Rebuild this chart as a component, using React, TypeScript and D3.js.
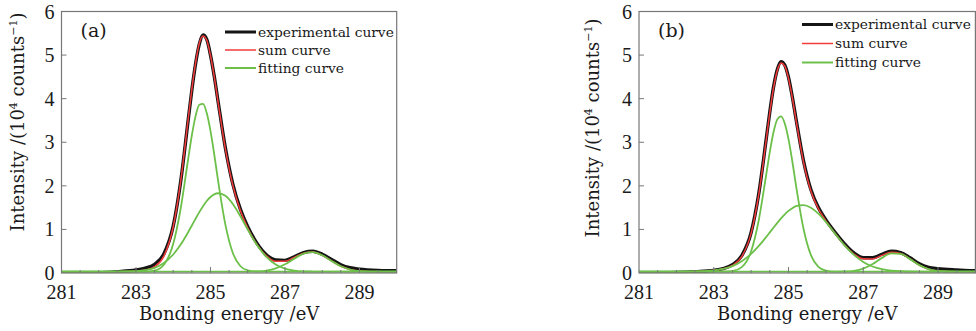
import * as d3 from "d3";

// binding energy grid (eV) shared by every curve
const energy = [281, 281.5, 282, 282.5, 283, 283.25, 283.5, 283.75, 284, 284.2, 284.4, 284.5, 284.6, 284.7, 284.8, 284.9, 285, 285.1, 285.2, 285.4, 285.6, 285.8, 286, 286.25, 286.5, 286.75, 287, 287.25, 287.5, 287.75, 288, 288.25, 288.5, 288.75, 289, 289.5, 290];

// panel (a), intensity in 10^4 counts
const expA = [0, 0, 0.005, 0.03, 0.07, 0.11, 0.2, 0.44, 1.08, 2.1, 3.5, 4.2, 4.8, 5.25, 5.46, 5.36, 5.0, 4.52, 3.96, 2.87, 2.04, 1.47, 1.06, 0.68, 0.42, 0.3, 0.29, 0.37, 0.47, 0.5, 0.43, 0.31, 0.19, 0.12, 0.09, 0.06, 0.05];
const sumA = [0.03, 0.03, 0.03, 0.031, 0.042, 0.067, 0.145, 0.388, 1.061, 2.104, 3.516, 4.22, 4.816, 5.27, 5.44, 5.34, 4.99, 4.51, 3.94, 2.847, 2.01, 1.439, 1.03, 0.651, 0.393, 0.269, 0.27, 0.357, 0.454, 0.481, 0.406, 0.276, 0.155, 0.08, 0.045, 0.031, 0.03];
const fitA1 = [0.03, 0.03, 0.03, 0.03, 0.03, 0.033, 0.057, 0.19, 0.67, 1.48, 2.61, 3.16, 3.6, 3.86, 3.88, 3.67, 3.26, 2.73, 2.14, 1.11, 0.46, 0.16, 0.06, 0.034, 0.03, 0.03, 0.03, 0.03, 0.03, 0.03, 0.03, 0.03, 0.03, 0.03, 0.03, 0.03, 0.03];
const fitA2 = [0.03, 0.03, 0.03, 0.031, 0.042, 0.064, 0.118, 0.229, 0.424, 0.652, 0.936, 1.09, 1.246, 1.396, 1.533, 1.652, 1.744, 1.804, 1.83, 1.771, 1.583, 1.307, 0.997, 0.64, 0.368, 0.195, 0.101, 0.057, 0.039, 0.033, 0.03, 0.03, 0.03, 0.03, 0.03, 0.03, 0.03];
const fitA3 = [0.03, 0.03, 0.03, 0.03, 0.03, 0.03, 0.03, 0.03, 0.03, 0.03, 0.03, 0.03, 0.03, 0.03, 0.03, 0.03, 0.03, 0.03, 0.03, 0.03, 0.03, 0.03, 0.031, 0.037, 0.055, 0.104, 0.199, 0.33, 0.445, 0.478, 0.406, 0.276, 0.155, 0.08, 0.045, 0.031, 0.03];

// panel (b)
const expB = [0, 0, 0.01, 0.03, 0.06, 0.1, 0.19, 0.4, 0.93, 1.8, 3.05, 3.7, 4.27, 4.67, 4.85, 4.77, 4.49, 4.05, 3.54, 2.58, 1.91, 1.5, 1.22, 0.93, 0.67, 0.46, 0.35, 0.35, 0.43, 0.5, 0.47, 0.35, 0.21, 0.13, 0.1, 0.07, 0.05];
const sumB = [0.03, 0.03, 0.03, 0.035, 0.059, 0.096, 0.174, 0.375, 0.908, 1.779, 3.029, 3.682, 4.248, 4.646, 4.818, 4.748, 4.465, 4.028, 3.515, 2.55, 1.878, 1.474, 1.197, 0.903, 0.64, 0.436, 0.325, 0.324, 0.405, 0.475, 0.448, 0.322, 0.181, 0.087, 0.046, 0.03, 0.03];
const fitB1 = [0.03, 0.03, 0.03, 0.03, 0.03, 0.032, 0.045, 0.134, 0.5, 1.194, 2.237, 2.78, 3.235, 3.525, 3.595, 3.432, 3.07, 2.57, 2.013, 1.022, 0.41, 0.141, 0.055, 0.033, 0.03, 0.03, 0.03, 0.03, 0.03, 0.03, 0.03, 0.03, 0.03, 0.03, 0.03, 0.03, 0.03];
const fitB2 = [0.03, 0.03, 0.03, 0.035, 0.059, 0.094, 0.159, 0.271, 0.438, 0.615, 0.822, 0.932, 1.043, 1.151, 1.253, 1.346, 1.425, 1.488, 1.532, 1.558, 1.498, 1.363, 1.172, 0.899, 0.635, 0.415, 0.254, 0.149, 0.088, 0.056, 0.04, 0.034, 0.031, 0.03, 0.03, 0.03, 0.03];
const fitB3 = [0.03, 0.03, 0.03, 0.03, 0.03, 0.03, 0.03, 0.03, 0.03, 0.03, 0.03, 0.03, 0.03, 0.03, 0.03, 0.03, 0.03, 0.03, 0.03, 0.03, 0.03, 0.03, 0.03, 0.031, 0.035, 0.051, 0.101, 0.205, 0.347, 0.449, 0.437, 0.318, 0.18, 0.087, 0.046, 0.03, 0.03];

const xTickLabels = [281, 283, 285, 287, 289];
const yTickLabels = [0, 1, 2, 3, 4, 5, 6];
const legendLabels = ["experimental curve", "sum curve", "fitting curve"];

const TEXT_FONT = "'DejaVu Serif', serif";
const DIGIT_FONT = "'Liberation Serif', serif";
const FRAME = "#777";
const BLACK = "#151515";
const RED = "#f23b3b";
const GREEN = "#6cc04a";
const INK = "#1a1a1a";

interface PanelProps {
  left: number;
  right: number;
  tag: string;
  exp: number[];
  sum: number[];
  fits: number[][];
  legendX: number;
  legendY: number;
  legendGap: number;
  titleX: number;
  titleY: number;
}

function Panel(p: PanelProps) {
  const top = 11.5, bottom = 273;
  const x = d3.scaleLinear().domain([281, 290]).range([p.left, p.right]);
  const y = d3.scaleLinear().domain([0, 6]).range([bottom, top]);
  const line = d3.line<number>()
    .x((_, i) => x(energy[i]))
    .y(d => y(d))
    .curve(d3.curveMonotoneX);
  const minor = d3.range(281.5, 290, 0.5);
  const legendColors = [BLACK, RED, GREEN];
  const legendWidths = [3, 1.5, 2];

  return (
    <g>
      <clipPath id={"clip" + p.tag}>
        <rect x={p.left} y={top} width={p.right - p.left} height={bottom - top} />
      </clipPath>
      <g clipPath={`url(#clip${p.tag})`}>
        <path d={line(p.exp) || ""} fill="none" stroke={BLACK} strokeWidth={3.4} />
        <path d={line(p.sum) || ""} fill="none" stroke={RED} strokeWidth={1.5} />
        {p.fits.map((fit, i) => (
          <path key={i} d={line(fit) || ""} fill="none" stroke={GREEN} strokeWidth={1.8} />
        ))}
      </g>
      <rect x={p.left} y={top} width={p.right - p.left} height={bottom - top}
        fill="none" stroke={FRAME} strokeWidth={1.2} />
      {minor.map(t => {
        const major = xTickLabels.includes(t);
        return <line key={t} x1={x(t)} x2={x(t)} y1={bottom} y2={bottom - (major ? 6 : 3)} stroke={FRAME} strokeWidth={1} />;
      })}
      {yTickLabels.slice(1, -1).map(t => (
        <line key={t} x1={p.left} x2={p.left + 5} y1={y(t)} y2={y(t)} stroke={FRAME} strokeWidth={1} />
      ))}
      {xTickLabels.map(t => (
        <text key={t} x={x(t)} y={299} textAnchor="middle" fontSize={20} fontFamily={DIGIT_FONT} fill={INK}>{t}</text>
      ))}
      {yTickLabels.map(t => (
        <text key={t} x={p.left - 7} y={y(t)} dy="0.35em" textAnchor="end" fontSize={20} fontFamily={DIGIT_FONT} fill={INK}>{t}</text>
      ))}
      <text x={(p.left + p.right) / 2} y={320} textAnchor="middle" fontSize={18} fontFamily={TEXT_FONT} fill={INK}>
        Bonding energy /eV
      </text>
      <text transform={`translate(${p.titleX},${p.titleY}) rotate(-90)`} textAnchor="middle" fontSize={18} fontFamily={TEXT_FONT} fill={INK}>
        Intensity /(10<tspan dy={-7} fontSize={11}>4</tspan><tspan dy={7}> counts</tspan><tspan dy={-7} fontSize={11}>−1</tspan><tspan dy={7}>)</tspan>
      </text>
      <text x={p.left + 19} y={37} fontSize={19} fontFamily={TEXT_FONT} fill={INK}>({p.tag})</text>
      {legendLabels.map((l, i) => (
        <g key={l} transform={`translate(${p.legendX},${p.legendY + i * p.legendGap})`}>
          <line x1={0} x2={31} y1={0} y2={0} stroke={legendColors[i]} strokeWidth={legendWidths[i]} />
          <text x={33} y={0} dy="0.33em" fontSize={13.8} fontFamily={TEXT_FONT} fill={INK}>{l}</text>
        </g>
      ))}
    </g>
  );
}

export default function App() {
  return (
    <svg width={976} height={331} style={{ position: "fixed", left: 0, top: 0, background: "#fff" }}>
      <rect width={976} height={331} fill="#fff" />
      <Panel left={61.5} right={396.7} tag="a" exp={expA} sum={sumA} fits={[fitA1, fitA2, fitA3]}
        legendX={225} legendY={32} legendGap={18} titleX={24} titleY={122} />
      <Panel left={639} right={975.4} tag="b" exp={expB} sum={sumB} fits={[fitB1, fitB2, fitB3]}
        legendX={802} legendY={24.5} legendGap={19} titleX={599} titleY={128} />
    </svg>
  );
}
